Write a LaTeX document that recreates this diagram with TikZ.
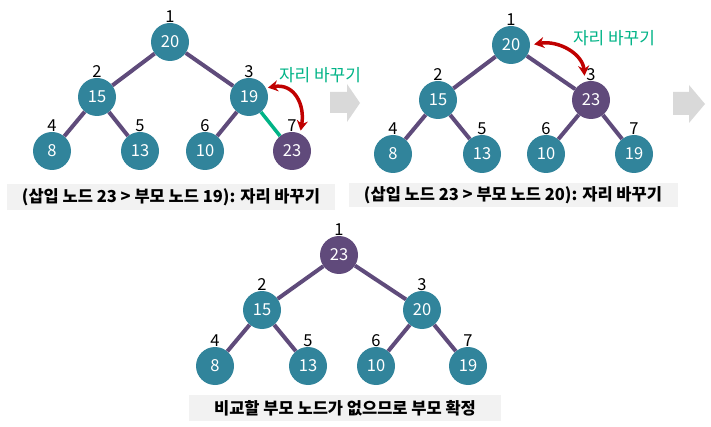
\documentclass[tikz,border=0pt]{standalone}
\usepackage{fontspec}
\setmainfont{Noto Sans CJK KR}
\usepackage{xcolor}
\usetikzlibrary{arrows.meta, positioning}

\definecolor{nodeteal}{HTML}{31849B}
\definecolor{nodepurp}{HTML}{604A7B}
\definecolor{edgepurp}{HTML}{5F4B7B}
\definecolor{swapgreen}{HTML}{00B386}
\definecolor{swapred}{HTML}{C00000}
\definecolor{capgray}{HTML}{F2F2F2}
\definecolor{nextgray}{HTML}{D9D9D9}

\begin{document}
\begin{tikzpicture}[
  x=1pt, y=-1pt,
  font=\fontsize{16.5}{16.5}\selectfont,
  hnode/.style={circle, fill=nodeteal, text=white, minimum size=38pt, inner sep=0pt, label distance=2.5pt},
  hot/.style={hnode, fill=nodepurp},
  idx/.style={inner sep=0pt},
  hedge/.style={draw=edgepurp, line width=4pt},
  newedge/.style={draw=swapgreen, line width=3.5pt},
  swaparr/.style={{Stealth[length=10pt,width=11pt]}-{Stealth[length=10pt,width=11pt]}, draw=swapred, line width=3.5pt},
  swaplab/.style={text=swapgreen, font=\fontsize{17}{17}\selectfont},
  capbox/.style={fill=capgray, font=\fontsize{16.5}{16.5}\selectfont\bfseries, inner sep=0pt},
  nextarr/.style={fill=nextgray}
]
\useasboundingbox (0,0) rectangle (711,427);

% 1단계: 23 > 19
\node[hnode, label={[idx]above:1}] (r1) at (170,42) {20};
\node[hnode, label={[idx]above:2}] (a1) at (97,97) {15};
\node[hnode, label={[idx]above:3}] (b1) at (249,97) {19};
\node[hnode, label={[idx]above:4}] (c1) at (52,151) {8};
\node[hnode, label={[idx]above:5}] (d1) at (140,151) {13};
\node[hnode, label={[idx]above:6}] (e1) at (205,151) {10};
\node[hot, label={[idx]above:7}] (f1) at (292,151) {23};
\draw[hedge] (r1) -- (a1);
\draw[hedge] (r1) -- (b1);
\draw[hedge] (a1) -- (c1);
\draw[hedge] (a1) -- (d1);
\draw[hedge] (b1) -- (e1);
\draw[newedge] (b1) -- (f1);
\draw[swaparr, shorten <=2pt, shorten >=3pt] (b1.28) to[out=10, in=80, looseness=1.3] (f1.65);
\node[swaplab] (s1) at (320,75) {자리 바꾸기};
\node[capbox, minimum width=328pt, minimum height=26pt] (cap1) at (171,197) {(삽입 노드 23 > 부모 노드 19): 자리 바꾸기};

% 2단계: 23 > 20
\node[hnode, label={[idx]above:1}] (r2) at (511,45) {20};
\node[hnode, label={[idx]above:2}] (a2) at (438,100) {15};
\node[hot, label={[idx]above:3}] (b2) at (591,100) {23};
\node[hnode, label={[idx]above:4}] (c2) at (393,154) {8};
\node[hnode, label={[idx]above:5}] (d2) at (482,154) {13};
\node[hnode, label={[idx]above:6}] (e2) at (546,154) {10};
\node[hnode, label={[idx]above:7}] (f2) at (634,154) {19};
\draw[hedge] (r2) -- (a2);
\draw[hedge] (r2) -- (b2);
\draw[hedge] (a2) -- (c2);
\draw[hedge] (a2) -- (d2);
\draw[hedge] (b2) -- (e2);
\draw[hedge] (b2) -- (f2);
\draw[swaparr, shorten <=4pt, shorten >=6pt] (r2.east) to[out=10, in=95, looseness=1.1] (b2.108);
\node[swaplab] (s2) at (614,38) {자리 바꾸기};
\node[capbox, minimum width=329pt, minimum height=24pt] (cap2) at (513,195) {(삽입 노드 23 > 부모 노드 20): 자리 바꾸기};

% 3단계: 확정
\node[hot, label={[idx]above:1}] (r3) at (339,255) {23};
\node[hnode, label={[idx]above:2}] (a3) at (262,310) {15};
\node[hnode, label={[idx]above:3}] (b3) at (422,310) {20};
\node[hnode, label={[idx]above:4}] (c3) at (215,366) {8};
\node[hnode, label={[idx]above:5}] (d3) at (308,366) {13};
\node[hnode, label={[idx]above:6}] (e3) at (376,366) {10};
\node[hnode, label={[idx]above:7}] (f3) at (468,366) {19};
\draw[hedge] (r3) -- (a3);
\draw[hedge] (r3) -- (b3);
\draw[hedge] (a3) -- (c3);
\draw[hedge] (a3) -- (d3);
\draw[hedge] (b3) -- (e3);
\draw[hedge] (b3) -- (f3);
\node[capbox, minimum width=312pt, minimum height=26pt] (cap3) at (345,408) {비교할 부모 노드가 없으므로 부모 확정};

% 다음 단계 화살표
\fill[nextarr] (330,92) -- (347,92) -- (347,84) -- (360,103) -- (347,122) -- (347,113) -- (330,113) -- cycle;
\fill[nextarr] (673,92) -- (689,92) -- (689,85) -- (705,104) -- (689,123) -- (689,115) -- (673,115) -- cycle;
\end{tikzpicture}
\end{document}
